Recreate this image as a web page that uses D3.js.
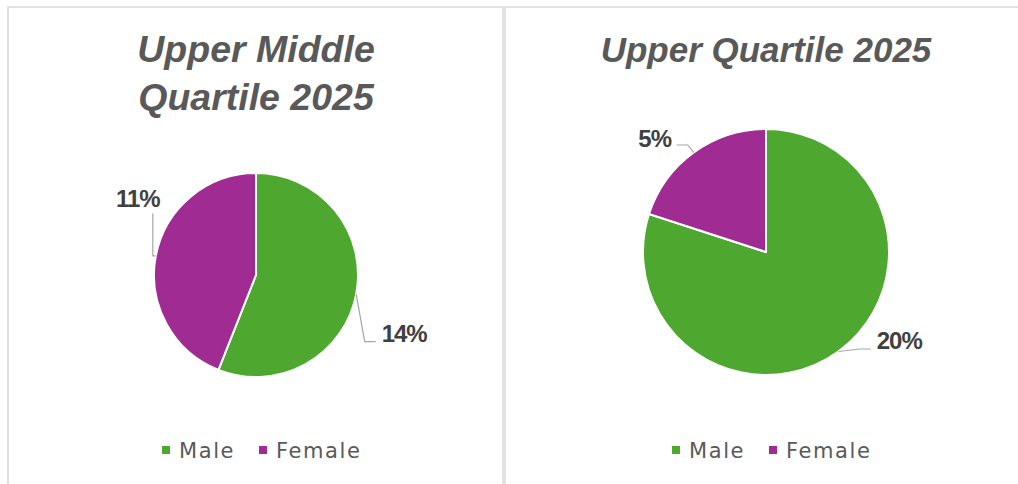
<!DOCTYPE html>
<html>
<head>
<meta charset="utf-8">
<script src="https://cdn.jsdelivr.net/npm/d3@7"></script>
<style>
  body { margin: 0; background: #fff; }
  svg { display: block; }
</style>
</head>
<body>
<div id="chart"></div>
<script>
/* Gender split by pay quartile, two pies side by side */

const genders = ["Male", "Female"];
const colours = ["#4ea72e", "#a02b93"];
const upperMiddle = [14, 11]; // Male, Female (%)
const upperQuartile = [20, 5];
const titleUpperMiddle = ["Upper Middle", "Quartile 2025"];
const titleUpper = ["Upper Quartile 2025"];

const width = 1018,
      height = 484;

// layout for each panel (centre, radius, label offsets from the slice edge)
const panels = [
    { values: upperMiddle, title: titleUpperMiddle, x0: 8, x1: 503, cx: 256, cy: 275, r: 102,
      titleSize: 37.5, titleY: 62, lineGap: 48, labelOff: [[48, 39], [-18, -57]] },
    { values: upperQuartile, title: titleUpper, x0: 505, x1: 1030, cx: 766, cy: 252, r: 123,
      titleSize: 35, titleY: 62, lineGap: 48, labelOff: [[61, -11], [-39, -14]] }
];

let svg = d3.select("#chart")
    .append("svg")
    .attr("width", width)
    .attr("height", height);

svg.append("rect").attr("width", width).attr("height", height).attr("fill", "#fff");

const pie = d3.pie().sort(null).value(d => d);

for (let p of panels) {
    let g = svg.append("g");

    /* panel border */
    g.append("rect")
        .attr("x", p.x0)
        .attr("y", 7)
        .attr("width", p.x1 - p.x0)
        .attr("height", height + 20)
        .attr("fill", "none")
        .attr("stroke", "#d9d9d9")
        .attr("stroke-width", 1.5);

    /* title */
    g.append("text")
        .attr("x", p.cx)
        .attr("y", p.titleY)
        .attr("text-anchor", "middle")
        .style("font-family", "'Liberation Sans', Arial, sans-serif")
        .style("font-weight", "bold")
        .style("font-style", "italic")
        .style("font-size", p.titleSize + "px")
        .attr("fill", "#595959")
        .selectAll("tspan")
        .data(p.title)
        .join("tspan")
        .attr("x", p.cx)
        .attr("dy", (d, i) => i === 0 ? 0 : p.lineGap)
        .text(d => d);

    /* slices */
    let arcs = pie(p.values);
    let arc = d3.arc().innerRadius(0).outerRadius(p.r);
    let edge = d3.arc().innerRadius(p.r).outerRadius(p.r);

    let pieG = g.append("g").attr("transform", `translate(${p.cx},${p.cy})`);

    pieG.selectAll("path")
        .data(arcs)
        .join("path")
        .attr("d", arc)
        .attr("fill", (d, i) => colours[i])
        .attr("stroke", "#fff")
        .attr("stroke-width", 2)
        .attr("stroke-linejoin", "round");

    /* labels with leader lines */
    arcs.forEach((d, i) => {
        let [ex, ey] = edge.centroid(d);
        let [ox, oy] = p.labelOff[i];
        let tx = ex + ox, ty = ey + oy;

        let t = pieG.append("text")
            .attr("x", tx)
            .attr("y", ty + 8.5)
            .attr("text-anchor", "middle")
            .style("font-family", "'Liberation Sans', Arial, sans-serif")
            .style("font-weight", "bold")
            .style("font-size", "24px")
            .style("letter-spacing", "-1px")
            .attr("fill", "#404040")
            .text(d.data + "%");

        let bb = t.node().getBBox();
        let bottom = ty + 8.5;
        let pts;
        if (Math.abs(oy) > 2 * Math.abs(ox)) {
            // label sits above/below: vertical leader
            let lx = tx + 15;
            pts = [[ex, ey], [lx, ey], [lx, oy < 0 ? bottom + 6 : ty - 14]];
        } else if (ox > 0) {
            let endX = bb.x - 6;
            pts = [[ex, ey], [endX - 11, bottom], [endX, bottom]];
        } else {
            let endX = bb.x + bb.width + 5;
            pts = [[ex, ey], [endX + 11, bottom - 2], [endX, bottom - 2]];
        }

        pieG.append("path")
            .attr("d", d3.line()(pts))
            .attr("fill", "none")
            .attr("stroke", "#a6a6a6")
            .attr("stroke-width", 1.2);
    });

    /* legend */
    let leg = g.append("g")
        .style("font-family", "'DejaVu Sans', sans-serif")
        .style("font-size", "21px")
        .style("letter-spacing", "1.6px");

    let lx = p.cx - 94;
    let items = leg.selectAll("g")
        .data(genders)
        .join("g")
        .attr("transform", (d, i) => `translate(${lx + i * 97},0)`);

    items.append("rect")
        .attr("x", 0)
        .attr("y", 446)
        .attr("width", 8)
        .attr("height", 8)
        .attr("fill", (d, i) => colours[i]);

    items.append("text")
        .attr("x", 17)
        .attr("y", 458)
        .attr("fill", "#595959")
        .text(d => d);
}
</script>
</body>
</html>
